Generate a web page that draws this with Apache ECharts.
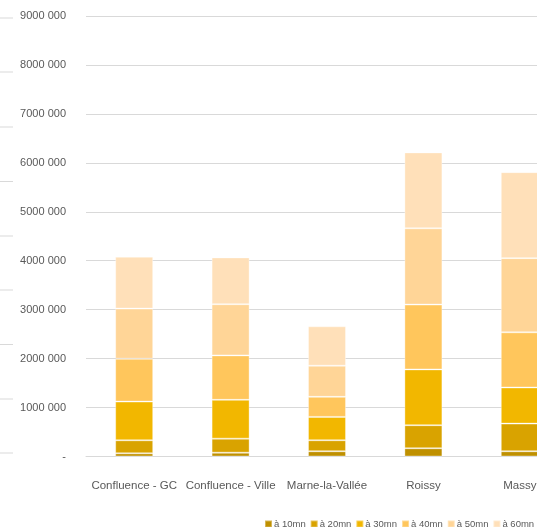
<!DOCTYPE html>
<html><head><meta charset="utf-8">
<script src="https://cdn.jsdelivr.net/npm/echarts@6/dist/echarts.min.js"></script>
<style>html,body{margin:0;padding:0;background:#fff;overflow:hidden;width:537px;height:527px}#c{width:568px;height:527px}</style>
</head><body><div id="c"></div>
<script>
var categories = ["Confluence - GC", "Confluence - Ville", "Marne-la-Vallée", "Roissy", "Massy"];
var seriesNames = ["à 10mn", "à 20mn", "à 30mn", "à 40mn", "à 50mn", "à 60mn"];
var s10 = [65000, 78000, 107000, 168000, 107000];
var s20 = [266000, 287000, 225000, 471000, 565000];
var s30 = [791000, 793000, 477000, 1140000, 738000];
var s40 = [875000, 908000, 410000, 1325000, 1127000];
var s50 = [1025000, 1045000, 636000, 1558000, 1516000];
var s60 = [1059000, 957000, 805000, 1551000, 1757000];
var colors = ["#BF9000", "#D9A300", "#F2B700", "#FFC65C", "#FFD597", "#FFE0B9"];
var allSeries = [s10, s20, s30, s40, s50, s60];

var font = '"Liberation Sans", Arial, sans-serif';
function fmt(v) {
  if (v === 0) return '-';
  var m = Math.floor(v / 1000000), r = v % 1000000;
  var rest = String(Math.floor(r / 1000)).padStart(3, '0') + ' ' + String(r % 1000).padStart(3, '0');
  return m + rest;
}
var leftLines = [18, 72, 127, 181.5, 236, 290, 344.5, 399, 453];
var graphics = leftLines.map(function (y) {
  return { type: 'line', shape: { x1: 0, y1: y, x2: 13, y2: y }, style: { stroke: '#D9D9D9', lineWidth: 1 } };
});
var chart = echarts.init(document.getElementById('c'));
chart.setOption({
  animation: false,
  color: colors,
  graphic: graphics,
  grid: { left: 86, top: 16, right: 0, height: 440.5 },
  legend: {
    data: seriesNames, left: 259, top: 514, itemWidth: 7, itemHeight: 7, itemGap: 4,
    icon: 'rect',
    textStyle: { fontFamily: font, fontSize: 9.5, color: '#595959', padding: [0, 0, 0, -3] }
  },
  xAxis: {
    type: 'category', data: categories,
    axisLine: { lineStyle: { color: '#D9D9D9', width: 1 } },
    axisTick: { show: false },
    axisLabel: { fontFamily: font, fontSize: 11.5, color: '#595959', margin: 23, interval: 0 }
  },
  yAxis: {
    type: 'value', min: 0, max: 9000000, interval: 1000000,
    axisLine: { show: false }, axisTick: { show: false },
    splitLine: { lineStyle: { color: '#D9D9D9', width: 1 } },
    axisLabel: { fontFamily: font, fontSize: 11, color: '#595959', margin: 20, formatter: fmt }
  },
  series: allSeries.map(function (d, i) {
    return {
      name: seriesNames[i], type: 'bar', stack: 'total', data: d, barWidth: 38,
      itemStyle: { color: colors[i], borderColor: 'rgba(255,255,255,0.35)', borderWidth: 1 }
    };
  })
});
</script></body></html>
